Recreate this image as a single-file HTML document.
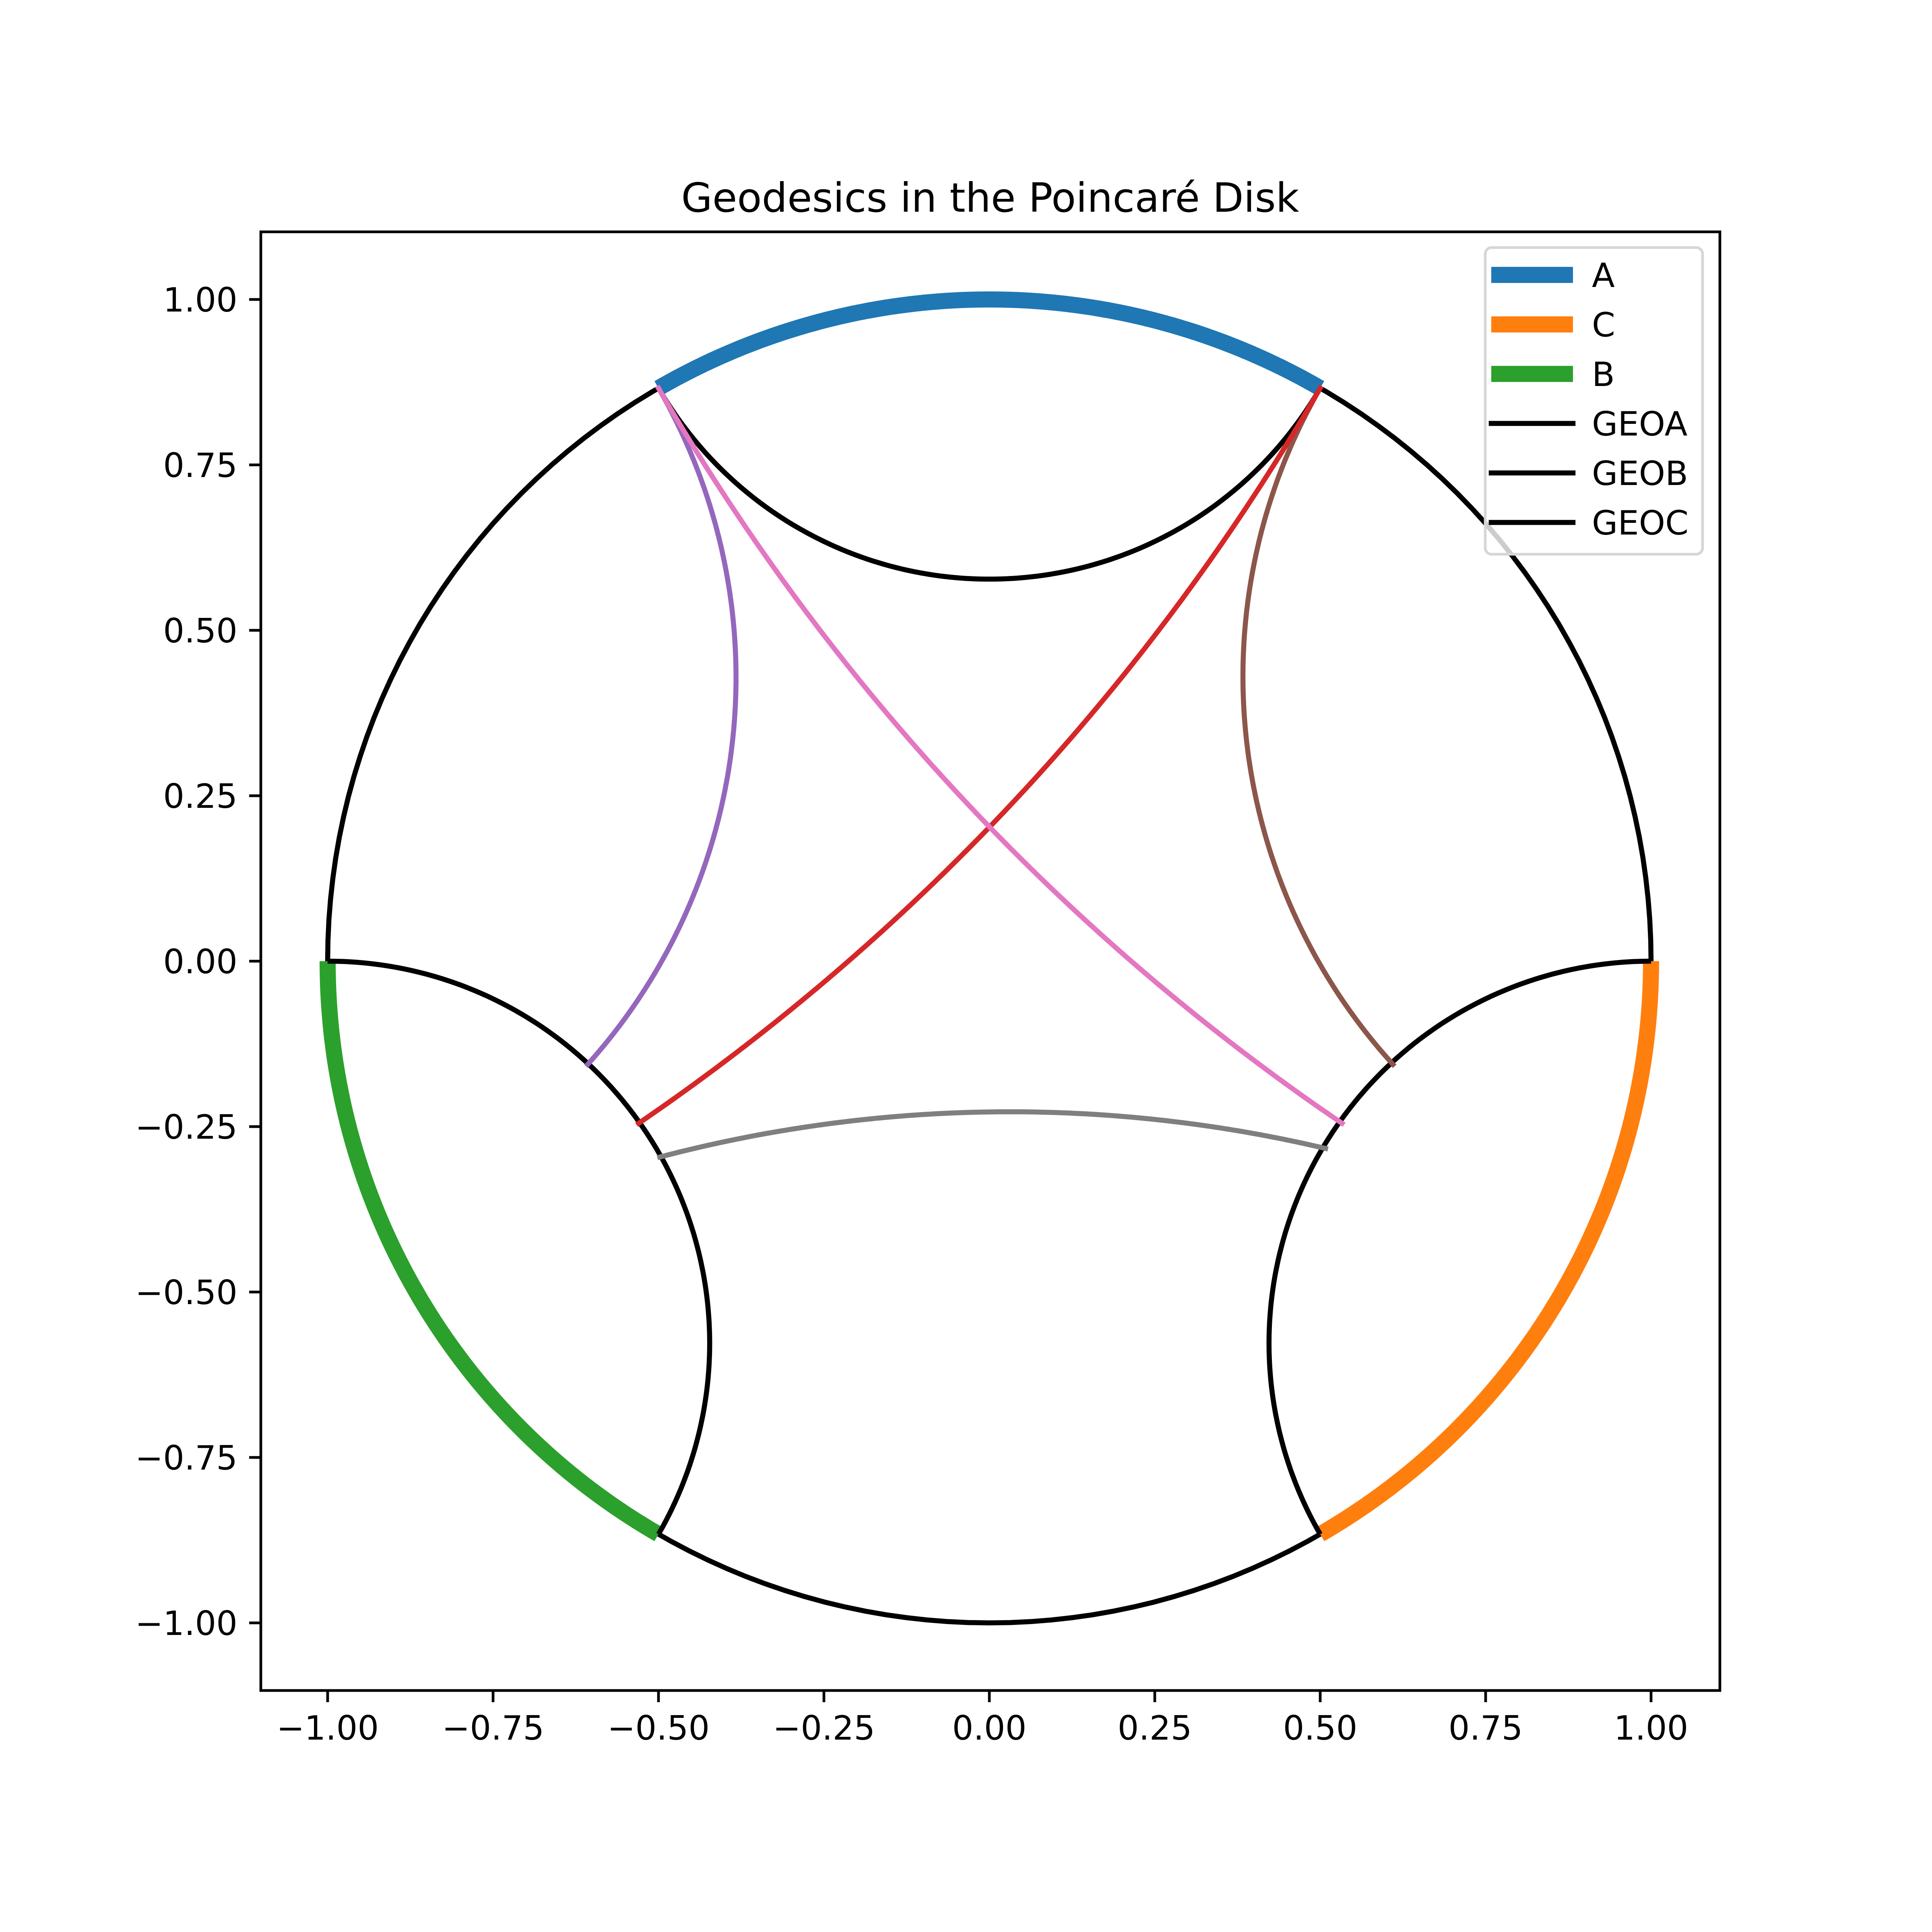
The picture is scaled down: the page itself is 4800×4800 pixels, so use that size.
<!DOCTYPE html>
<html><head><meta charset="utf-8">
<style>
html,body{margin:0;padding:0;background:#fff;}
svg{display:block;}
text{font-family:"DejaVu Sans","Liberation Sans",sans-serif;fill:#000;}
</style></head>
<body>
<svg id="chart" width="4800" height="4800" viewBox="0 0 4800 4800" xmlns="http://www.w3.org/2000/svg">
<rect x="0" y="0" width="4800" height="4800" fill="#fff"/>
<text x="2460" y="526" font-size="100" text-anchor="middle">Geodesics in the Poincaré Disk</text>
<g id="plot"></g>
<g id="axes"></g>
<g id="legend"></g>
</svg>
<script>
// ---- data ----
const arcNames = ["A", "C", "B"];
const arcStartDeg = [60, 300, 180];
const arcEndDeg = [120, 360, 240];
const arcColors = ["#1f77b4", "#ff7f0e", "#2ca02c"];
const boundaryNames = ["GEOA", "GEOB", "GEOC"];
const boundaryStartDeg = [60, 180, 300];
const boundaryEndDeg = [120, 240, 360];
const geoStartX = [-0.5, 0.5, 0.5, -0.5, -0.498];
const geoStartY = [0.866, 0.866, 0.866, 0.866, -0.296];
const geoEndX = [-0.607, 0.610, -0.530, 0.533, 0.508];
const geoEndY = [-0.156, -0.156, -0.245, -0.245, -0.283];
const geoColors = ["#9467bd", "#8c564b", "#d62728", "#e377c2", "#7f7f7f"];
const xTicks = [-1, -0.75, -0.5, -0.25, 0, 0.25, 0.5, 0.75, 1];
const yTicks = [-1, -0.75, -0.5, -0.25, 0, 0.25, 0.5, 0.75, 1];

// ---- axes geometry ----
const AX = {l:648, r:4273, t:576, b:4200};
const S = 1644, X0 = 2458, Y0 = 2388;
const sx = v => X0 + v*S;
const sy = v => Y0 - v*S;
const NS = "http://www.w3.org/2000/svg";
const plot = document.getElementById('plot');
const axes = document.getElementById('axes');
const legend = document.getElementById('legend');
function mk(tag, attrs, parent){ const e=document.createElementNS(NS,tag); for(const k in attrs) e.setAttribute(k,attrs[k]); parent.appendChild(e); return e; }
function ptsToPath(pts){ return pts.map((p,i)=>(i?'L':'M')+sx(p[0]).toFixed(1)+' '+sy(p[1]).toFixed(1)).join(''); }
function circArc(cx,cy,r,a0,a1){ const pts=[]; const n=200; for(let i=0;i<=n;i++){const a=a0+(a1-a0)*i/n; pts.push([cx+r*Math.cos(a), cy+r*Math.sin(a)]);} return pts; }
const rad = d => d*Math.PI/180;
function arcBetween(ux,uy,r,p,q){
  let a0=Math.atan2(p[1]-uy,p[0]-ux), a1=Math.atan2(q[1]-uy,q[0]-ux);
  let da=a1-a0; while(da>Math.PI) da-=2*Math.PI; while(da<-Math.PI) da+=2*Math.PI;
  return circArc(ux,uy,r,a0,a0+da);
}
function geodesicPts(p,q){
  let inv = (Math.hypot(q[0],q[1])<0.999) ? [q[0]/(q[0]**2+q[1]**2), q[1]/(q[0]**2+q[1]**2)] : [p[0]/(p[0]**2+p[1]**2), p[1]/(p[0]**2+p[1]**2)];
  const [ax,ay]=p,[bx,by]=q,[cx,cy]=inv;
  const d=2*(ax*(by-cy)+bx*(cy-ay)+cx*(ay-by));
  if(Math.abs(d)<1e-9) return [p,q];
  const ux=((ax*ax+ay*ay)*(by-cy)+(bx*bx+by*by)*(cy-ay)+(cx*cx+cy*cy)*(ay-by))/d;
  const uy=((ax*ax+ay*ay)*(cx-bx)+(bx*bx+by*by)*(ax-cx)+(cx*cx+cy*cy)*(bx-ax))/d;
  const r=Math.hypot(ax-ux,ay-uy);
  return arcBetween(ux,uy,r,p,q);
}
function boundaryGeo(d0,d1){
  const m=rad((d0+d1)/2), h=rad((d1-d0)/2);
  const dist=1/Math.cos(h), r=Math.tan(h);
  const cx=dist*Math.cos(m), cy=dist*Math.sin(m);
  return arcBetween(cx,cy,r,[Math.cos(rad(d0)),Math.sin(rad(d0))],[Math.cos(rad(d1)),Math.sin(rad(d1))]);
}

// unit circle
let el = mk('path',{d:ptsToPath(circArc(0,0,1,0,2*Math.PI)),fill:'none',stroke:'#000','stroke-width':12.5},plot);



arcNames.forEach((n,i)=>{
  const e = mk('path',{d:ptsToPath(circArc(0,0,1,rad(arcStartDeg[i]),rad(arcEndDeg[i]))),fill:'none',stroke:arcColors[i],'stroke-width':40,'stroke-linecap':'butt'},plot);
  
  
});
boundaryNames.forEach((n,i)=>{
  const e = mk('path',{d:ptsToPath(boundaryGeo(boundaryStartDeg[i],boundaryEndDeg[i])),fill:'none',stroke:'#000','stroke-width':12.5},plot);
  
  
});
geoColors.forEach((c,i)=>{
  const e = mk('path',{d:ptsToPath(geodesicPts([geoStartX[i],geoStartY[i]],[geoEndX[i],geoEndY[i]])),fill:'none',stroke:c,'stroke-width':12.5,'stroke-linecap':'square'},plot);
  
  
});

el = mk('rect',{x:AX.l,y:AX.t,width:AX.r-AX.l,height:AX.b-AX.t,fill:'none',stroke:'#000','stroke-width':6.7},axes);


const fmt = v => (v<0?'\u2212':'')+Math.abs(v).toFixed(2);
xTicks.forEach(v=>{
  const t = mk('line',{x1:sx(v),x2:sx(v),y1:AX.b,y2:AX.b+29,stroke:'#000','stroke-width':6.7},axes);
  
  
  const l = mk('text',{x:sx(v),y:4322,'font-size':83,'text-anchor':'middle'},axes);
  l.textContent = fmt(v);
  
  
});
yTicks.forEach(v=>{
  const t = mk('line',{x1:AX.l-29,x2:AX.l,y1:sy(v),y2:sy(v),stroke:'#000','stroke-width':6.7},axes);
  
  
  const l = mk('text',{x:AX.l-58,y:sy(v)+30,'font-size':83,'text-anchor':'end'},axes);
  l.textContent = fmt(v);
  
  
});

el = mk('rect',{x:3690,y:615,width:540,height:762,rx:16,fill:'#fff','fill-opacity':0.8,stroke:'#d6d6d6','stroke-width':6.7},legend);


const legLabels = arcNames.concat(boundaryNames);
const legColors = arcColors.concat(['#000','#000','#000']);
legLabels.forEach((n,i)=>{
  const y = 683 + i*123;
  const thick = i<3;
  const ln = mk('line',{x1:3705,x2:3908,y1:y,y2:y,stroke:legColors[i],'stroke-width':thick?40:12.5,'stroke-linecap':thick?'butt':'square'},legend);
  
  
  const tx = mk('text',{x:3955,y:y+30,'font-size':83},legend);
  tx.textContent = n;
  
  
});
</script>
</body></html>
